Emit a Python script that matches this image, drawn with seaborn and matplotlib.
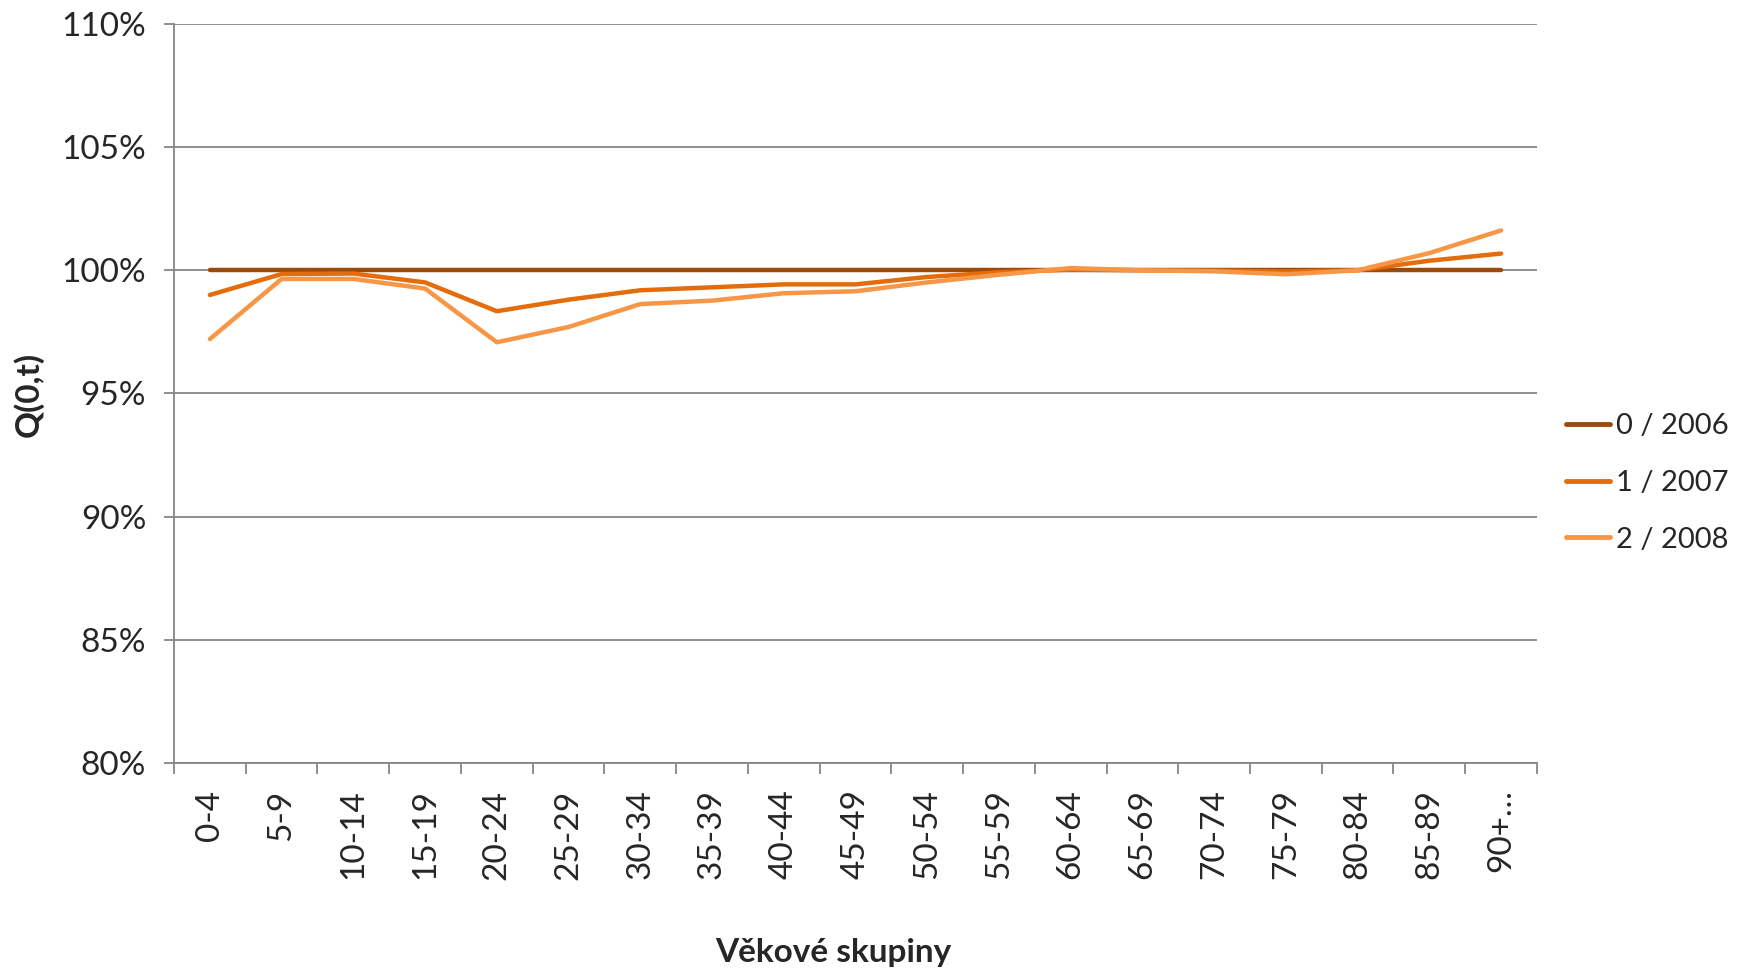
import matplotlib
matplotlib.use("Agg")
import matplotlib.pyplot as plt
import seaborn as sns
import pandas as pd
from matplotlib.ticker import FuncFormatter

# Age groups on the x axis
age_groups = ["0-4", "5-9", "10-14", "15-19", "20-24", "25-29", "30-34", "35-39",
              "40-44", "45-49", "50-54", "55-59", "60-64", "65-69", "70-74",
              "75-79", "80-84", "85-89", "90+…"]

# Q(0,t) per age group, in percent
q_2006 = [100.0] * 19
q_2007 = [99.0, 99.85, 99.87, 99.51, 98.34, 98.81, 99.19, 99.31, 99.43, 99.43,
          99.73, 99.92, 100.03, 100.0, 99.99, 99.95, 100.0, 100.39, 100.68]
q_2008 = [97.21, 99.65, 99.65, 99.26, 97.08, 97.70, 98.63, 98.77, 99.07, 99.15,
          99.51, 99.82, 100.09, 100.0, 99.96, 99.84, 100.0, 100.70, 101.62]

series_names = ["0 / 2006", "1 / 2007", "2 / 2008"]
series_colors = ["#9C4A0B", "#E46C0A", "#F79646"]
y_ticks = [80, 85, 90, 95, 100, 105, 110]

frames = []
for name, vals in zip(series_names, [q_2006, q_2007, q_2008]):
    frames.append(pd.DataFrame({"pos": range(len(age_groups)),
                                "group": age_groups, "q": vals, "series": name}))
df = pd.concat(frames, ignore_index=True)

sns.set_style("white")
plt.rcParams["font.family"] = ["Lato", "DejaVu Sans"]

fig = plt.figure(figsize=(17.42, 9.71), dpi=100)
ax = fig.add_axes([0.0999, 0.2142, 0.7824, 0.7611])

sns.lineplot(data=df, x="pos", y="q", hue="series", palette=series_colors,
             linewidth=3.2, ax=ax, sort=False, legend=True,
             solid_capstyle="round")

grid_col = "#868686"
fs = 24
ax.set_ylim(80, 110)
ax.set_yticks(y_ticks)
ax.yaxis.set_major_formatter(FuncFormatter(lambda v, p: f"{v:.0f}%"))
ax.set_xlim(-0.5, len(age_groups) - 0.5)
ax.set_xticks([i - 0.5 for i in range(len(age_groups) + 1)])
ax.set_xticklabels([])
ax.set_xticks(range(len(age_groups)), minor=True)
ax.set_xticklabels(age_groups, minor=True, rotation=90, va="top", ha="center",
                   fontsize=fs)

ax.yaxis.grid(True, color=grid_col, linewidth=1.3)
ax.xaxis.grid(False)
ax.set_axisbelow(True)
for side in ["top", "right"]:
    ax.spines[side].set_visible(False)
for side in ["left", "bottom"]:
    ax.spines[side].set_color(grid_col)
    ax.spines[side].set_linewidth(1.3)

ax.tick_params(axis="y", which="major", direction="out", length=7, width=1.3,
               color=grid_col, labelsize=fs, pad=13, left=True)
ax.tick_params(axis="x", which="major", direction="out", length=8, width=1.3,
               color=grid_col, bottom=True)
ax.tick_params(axis="x", which="minor", length=0, pad=19, labelsize=fs)

ax.set_xlabel("Věkové skupiny", fontsize=fs, fontweight="bold", va="center")
ax.xaxis.set_label_coords(0.4835, -0.2558)
ax.set_ylabel("Q(0,t)", fontsize=fs, fontweight="bold")
ax.yaxis.set_label_coords(-0.0954, 0.499)

leg = ax.legend(loc="center left", bbox_to_anchor=(1.013, 0.379), frameon=False,
                fontsize=21, handlelength=1.5, handletextpad=0.2,
                labelspacing=1.05, borderaxespad=0)
for line in leg.get_lines():
    line.set_linewidth(3.5)

fig.savefig("out.png", dpi=100, facecolor="white")
